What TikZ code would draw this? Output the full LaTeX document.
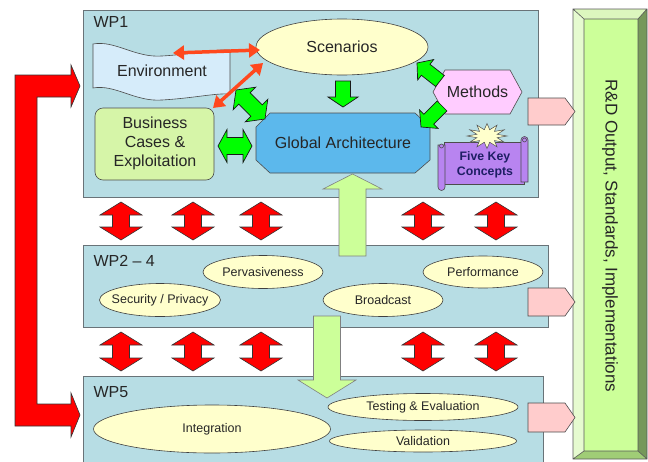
\documentclass[tikz,border=0pt]{standalone}
\usepackage{fontspec}
\setmainfont{Liberation Sans}
\usetikzlibrary{calc,arrows.meta,shapes.geometric}

\definecolor{wpfill}{RGB}{183,221,228}
\definecolor{wpline}{RGB}{105,115,120}
\definecolor{ellfill}{RGB}{255,255,204}
\definecolor{lime}{RGB}{0,255,0}
\definecolor{pale}{RGB}{204,255,153}
\definecolor{pinkout}{RGB}{255,204,204}
\definecolor{gablue}{RGB}{92,184,236}
\definecolor{envblue}{RGB}{214,236,250}
\definecolor{bizgreen}{RGB}{214,245,168}
\definecolor{methpink}{RGB}{255,204,255}
\definecolor{fivepurple}{RGB}{184,132,240}
\definecolor{fivetext}{RGB}{30,30,100}
\definecolor{orangered}{RGB}{255,72,30}
\definecolor{bevtop}{RGB}{220,247,190}
\definecolor{bevleft}{RGB}{230,251,208}
\definecolor{bevright}{RGB}{118,152,90}
\definecolor{bevbottom}{RGB}{160,205,118}

% direction and length between two named points
\newcommand\arrowgeom[2]{%
  \path let \p1=(#1), \p2=(#2) in
    \pgfextra{\pgfmathsetmacro\aang{atan2(\y2-\y1,\x2-\x1)}%
              \pgfmathsetmacro\alen{veclen(\x2-\x1,\y2-\y1)}%
              \global\let\arAng\aang \global\let\arLen\alen};}

% block arrow: style, tail, tip, shaft half width, head half width, head length
\newcommand\singlearrow[6]{%
  \arrowgeom{#2}{#3}%
  \begin{scope}[shift={(#2)},rotate=\arAng]
    \draw[#1] (0pt,-#4pt) -- (\arLen pt-#6pt,-#4pt) -- (\arLen pt-#6pt,-#5pt)
      -- (\arLen pt,0pt) -- (\arLen pt-#6pt,#5pt) -- (\arLen pt-#6pt,#4pt)
      -- (0pt,#4pt) -- cycle;
  \end{scope}}

% two-headed block arrow, same arguments
\newcommand\doublearrow[6]{%
  \arrowgeom{#2}{#3}%
  \begin{scope}[shift={(#2)},rotate=\arAng]
    \draw[#1] (0pt,0pt) -- (#6pt,-#5pt) -- (#6pt,-#4pt) -- (\arLen pt-#6pt,-#4pt)
      -- (\arLen pt-#6pt,-#5pt) -- (\arLen pt,0pt) -- (\arLen pt-#6pt,#5pt)
      -- (\arLen pt-#6pt,#4pt) -- (#6pt,#4pt) -- (#6pt,#5pt) -- cycle;
  \end{scope}}

\tikzset{
  wpbox/.style={draw=wpline, fill=wpfill, line width=0.6pt, inner sep=0pt},
  ell/.style={ellipse, draw=black!75, fill=ellfill, line width=0.6pt, inner sep=0pt},
  small/.style={font=\fontsize{12.5}{14}\selectfont, text=black!85},
  big/.style={font=\fontsize{16}{19}\selectfont, text=black!85},
  redarr/.style={fill=red, draw=black!80, line width=0.6pt, line join=miter},
  greenarr/.style={fill=lime, draw=black!90, line width=0.7pt},
  palearr/.style={fill=pale, draw=black!50, line width=0.6pt},
  pinkarr/.style={fill=pinkout, draw=black!70, line width=0.6pt},
  orangearr/.style={draw=orangered, line width=3.5pt,
    {Triangle[length=11pt,width=14pt]}-{Triangle[length=11pt,width=14pt]}},
  scroll/.style={fill=fivepurple, draw=black!70, line width=0.6pt},
}

\begin{document}
\begin{tikzpicture}[x=1pt,y=-1pt]
\useasboundingbox (0,0) rectangle (648,461);

% ---------- work package panels ----------
\node[wpbox, anchor=north west, minimum width=455pt, minimum height=187pt] (wp1) at (83,10) {};
\node[wpbox, anchor=north west, minimum width=465pt, minimum height=82pt] (wp24) at (83,245) {};
\node[wpbox, anchor=north west, minimum width=460pt, minimum height=90pt] (wp5) at (83,376) {};
\node[big, anchor=west] (wp1lab) at (90,22) {WP1};
\node[big, anchor=west] (wp24lab) at (90,261) {WP2 -- 4};
\node[big, anchor=west] (wp5lab) at (90,392) {WP5};

% ---------- output bar ----------
\fill[bevtop] (573,9) -- (647,9) -- (638,19) -- (584,19) -- cycle;
\fill[bevleft] (573,9) -- (584,19) -- (584,451) -- (573,459) -- cycle;
\fill[bevright] (647,9) -- (638,19) -- (638,451) -- (647,459) -- cycle;
\fill[bevbottom] (573,459) -- (584,451) -- (638,451) -- (647,459) -- cycle;
\fill[pale] (584,19) rectangle (638,451);
\draw[black!65, line width=0.6pt] (573,9) rectangle (647,459)
  (584,19) rectangle (638,451)
  (573,9) -- (584,19) (647,9) -- (638,19) (573,459) -- (584,451) (647,459) -- (638,451);
\node[rotate=-90, font=\fontsize{17}{20}\selectfont, text=black!85] (rd) at (610,236)
  {R\&D Output, Standards, Implementations};

% outputs of each work package
\draw[pinkarr] (528,98) -- (565,98) -- (575,111.5) -- (565,125) -- (528,125) -- cycle;
\draw[pinkarr] (528,288) -- (565,288) -- (575,302) -- (565,316) -- (528,316) -- cycle;
\draw[pinkarr] (528,403) -- (565,403) -- (575,417.5) -- (565,432) -- (528,432) -- cycle;

% ---------- feedback loop WP5 -> WP1 ----------
\draw[redarr] (15,75) -- (71,75) -- (71,65) -- (80,86) -- (71,107) -- (71,97) -- (37,97)
  -- (37,404) -- (71,404) -- (71,393) -- (80,415) -- (71,437) -- (71,426) -- (15,426) -- cycle;

% ---------- exchanges between the panels ----------
\foreach \xx [count=\i] in {121,193,261,423,496}{
  \coordinate (ua\i) at (\xx,202);
  \coordinate (ub\i) at (\xx,240);
  \coordinate (la\i) at (\xx,332);
  \coordinate (lb\i) at (\xx,371);
  \doublearrow{redarr}{ua\i}{ub\i}{8.5}{21}{13}
  \doublearrow{redarr}{la\i}{lb\i}{8.5}{21}{13}
}

% ---------- WP1 content ----------
\draw[draw=black!70, fill=envblue, line width=0.6pt]
  (93,44) .. controls (115,40) and (135,58) .. (162,56)
  .. controls (195,54) and (215,49) .. (230,50) -- (230,94)
  .. controls (215,93) and (195,98) .. (162,100)
  .. controls (135,102) and (115,84) .. (93,88) -- cycle;
\node[big] (env) at (162,71) {Environment};

\draw[draw=black!70, fill=bizgreen, line width=0.6pt, rounded corners=8pt] (95,108) rectangle (214,180);
\node[big, align=center, font=\fontsize{16}{19}\selectfont] (biz) at (155,143) {Business\\Cases \&\\Exploitation};

\node[ell, minimum width=172pt, minimum height=56pt] (scen) at (342,47) {};
\node[big] (scenlab) at (342,47) {Scenarios};

\draw[draw=black!70, fill=gablue, line width=0.6pt]
  (270,113) -- (415,113) -- (430,127) -- (430,160) -- (415,173) -- (270,173)
  -- (256,160) -- (256,127) -- cycle;
\node[big] (ga) at (343,143) {Global Architecture};

\draw[draw=black!70, fill=methpink, line width=0.6pt]
  (433,92) -- (445,70) -- (510,70) -- (522,92) -- (510,114) -- (445,114) -- cycle;
\node[big] (meth) at (477.5,92) {Methods};

% scroll with burst
\draw[scroll] (444,142) -- (524,142) -- (524,184) -- (444,184) -- cycle;
\draw[scroll] (521,182) -- (521,140) arc[start angle=180, end angle=360, radius=3.5] -- (528,182) -- cycle;
\draw[scroll] (524.5,140) circle[radius=2];
\draw[scroll] (445,145) -- (438,145) -- (438,187) arc[start angle=180, end angle=0, radius=3.5] -- cycle;
\draw[scroll] (441.5,146) circle[radius=2];
\draw[fill=ellfill, draw=black!70, line width=0.5pt]
  plot[samples at={0,...,23}, variable=\k]
  ({487+(mod(\k,2)==0 ? 20 : 10.5)*cos(\k*15)}, {136+(mod(\k,2)==0 ? 12.5 : 6.5)*sin(\k*15)}) -- cycle;
\node[align=center, font=\bfseries\fontsize{12.3}{15}\selectfont, text=fivetext] (five) at (485,165) {Five Key\\Concepts};

% links inside WP1
\coordinate (envtop) at (173,53);
\coordinate (scenwest) at (260,50);
\coordinate (scensw) at (263,63);
\coordinate (bizne) at (213,108);
\draw[orangearr] (envtop) -- (scenwest);
\draw[orangearr] (scensw) -- (bizne);

\coordinate (s1) at (343,81);  \coordinate (s2) at (343,107);
\singlearrow{greenarr}{s1}{s2}{7.5}{15}{10}
\coordinate (m1) at (440,81);  \coordinate (m2) at (417,63);
\singlearrow{greenarr}{m1}{m2}{7}{13}{11}
\coordinate (m3) at (442,106); \coordinate (m4) at (421,127);
\singlearrow{greenarr}{m3}{m4}{7}{13}{11}
\coordinate (d1) at (236,90);  \coordinate (d2) at (265,119);
\doublearrow{greenarr}{d1}{d2}{8}{16}{12}
\coordinate (h1) at (218,146); \coordinate (h2) at (252,146);
\doublearrow{greenarr}{h1}{h2}{8.5}{16.5}{9}

% ---------- WP2-4 content ----------
\node[ell, minimum width=120pt, minimum height=33pt, label={[small]center:Pervasiveness}] (perv) at (263,272) {};
\node[ell, minimum width=121pt, minimum height=33pt, label={[small]center:Security / Privacy}] (sec) at (160,300) {};
\node[ell, minimum width=120pt, minimum height=33pt, label={[small]center:Broadcast}] (bc) at (383,300) {};
\node[ell, minimum width=120pt, minimum height=32pt, label={[small]center:Performance}] (perf) at (483,272) {};

% WP2-4 feeds the architecture, which feeds WP5
\coordinate (up1) at (352.5,256); \coordinate (up2) at (352.5,174);
\singlearrow{palearr}{up1}{up2}{13.5}{29.5}{15}
\coordinate (dn1) at (327,316); \coordinate (dn2) at (327,398);
\singlearrow{palearr}{dn1}{dn2}{13.5}{29}{18}

% ---------- WP5 content ----------
\node[ell, minimum width=237pt, minimum height=48pt, label={[small]center:Integration}] (integ) at (212,429) {};
\node[ell, minimum width=190pt, minimum height=27pt, label={[small]center:Testing \& Evaluation}] (test) at (423,407) {};
\node[ell, minimum width=187pt, minimum height=22pt, label={[small]center:Validation}] (valid) at (423,441) {};
\end{tikzpicture}
\end{document}
